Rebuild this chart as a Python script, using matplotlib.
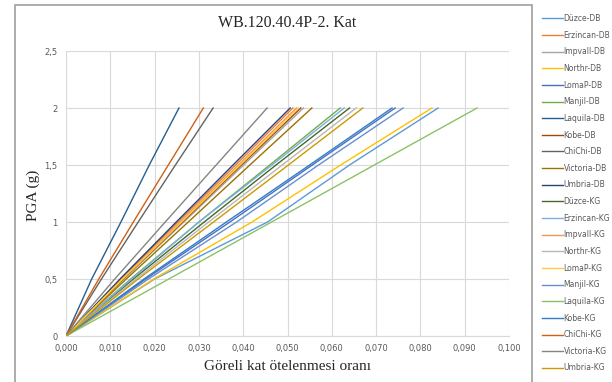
import matplotlib
matplotlib.use("Agg")
import matplotlib.pyplot as plt
from matplotlib.patches import Rectangle

pga = [0.0, 0.5, 1.0, 1.5, 2.0]

names = ["Düzce-DB", "Erzincan-DB", "Impvall-DB", "Northr-DB", "LomaP-DB", "Manjil-DB",
         "Laquila-DB", "Kobe-DB", "ChiChi-DB", "Victoria-DB", "Umbria-DB",
         "Düzce-KG", "Erzincan-KG", "Impvall-KG", "Northr-KG", "LomaP-KG", "Manjil-KG",
         "Laquila-KG", "Kobe-KG", "ChiChi-KG", "Victoria-KG", "Umbria-KG"]

colors = ["#5B9BD5", "#ED7D31", "#A5A5A5", "#FFC000", "#4472C4", "#70AD47",
          "#255E91", "#9E480E", "#636363", "#997300", "#264478",
          "#43682B", "#7CAFDD", "#F1975A", "#B7B7B7", "#FFCD33", "#698ED0",
          "#8CC168", "#327DC2", "#D26012", "#848484", "#CC9A00"]

drift = {
    "Düzce-DB":    [0, 0.0200, 0.0455, 0.0640, 0.0840],
    "Erzincan-DB": [0, 0.0124, 0.0253, 0.0383, 0.0512],
    "Impvall-DB":  [0, 0.0131, 0.0266, 0.0401, 0.0536],
    "Northr-DB":   [0, 0.0198, 0.0420, 0.0620, 0.0826],
    "LomaP-DB":    [0, 0.0180, 0.0370, 0.0556, 0.0743],
    "Manjil-DB":   [0, 0.0146, 0.0300, 0.0460, 0.0619],
    "Laquila-DB":  [0, 0.0058, 0.0124, 0.0188, 0.0255],
    "Kobe-DB":     [0, 0.0129, 0.0263, 0.0396, 0.0530],
    "ChiChi-DB":   [0, 0.0080, 0.0163, 0.0247, 0.0332],
    "Victoria-DB": [0, 0.0136, 0.0276, 0.0415, 0.0555],
    "Umbria-DB":   [0, 0.0122, 0.0249, 0.0377, 0.0506],
    "Düzce-KG":    [0, 0.0152, 0.0312, 0.0474, 0.0640],
    "Erzincan-KG": [0, 0.0148, 0.0300, 0.0465, 0.0628],
    "Impvall-KG":  [0, 0.0127, 0.0258, 0.0389, 0.0520],
    "Northr-KG":   [0, 0.0158, 0.0322, 0.0488, 0.0655],
    "LomaP-KG":    [0, 0.0128, 0.0261, 0.0393, 0.0525],
    "Manjil-KG":   [0, 0.0186, 0.0385, 0.0570, 0.0761],
    "Laquila-KG":  [0, 0.0232, 0.0464, 0.0696, 0.0928],
    "Kobe-KG":     [0, 0.0176, 0.0362, 0.0550, 0.0736],
    "ChiChi-KG":   [0, 0.0074, 0.0152, 0.0231, 0.0310],
    "Victoria-KG": [0, 0.0110, 0.0224, 0.0339, 0.0454],
    "Umbria-KG":   [0, 0.0163, 0.0333, 0.0502, 0.0670],
}

xticks = [0.0, 0.01, 0.02, 0.03, 0.04, 0.05, 0.06, 0.07, 0.08, 0.09, 0.10]
xticklabels = ["0,000", "0,010", "0,020", "0,030", "0,040", "0,050", "0,060", "0,070", "0,080", "0,090", "0,100"]
yticks = [0, 0.5, 1, 1.5, 2, 2.5]
yticklabels = ["0", "0,5", "1", "1,5", "2", "2,5"]

fig = plt.figure(figsize=(6.12, 3.82), dpi=100)
ax = fig.add_axes([66/612, 1-336/382, (509-66)/612, (336-51)/382])

handles = []
for name, c in zip(names, colors):
    h, = ax.plot(drift[name], pga, color=c, lw=1.0, label=name)
    handles.append(h)

ax.set_xlim(0, 0.1)
ax.set_ylim(0, 2.5)
ax.set_xticks(xticks)
ax.set_xticklabels(xticklabels)
ax.set_yticks(yticks)
ax.set_yticklabels(yticklabels)
ax.tick_params(length=0, labelsize=6, colors="#595959", pad=6)
ax.grid(True, color="#D9D9D9", lw=0.8)
ax.set_axisbelow(True)
for s in ["top", "right", "left"]:
    ax.spines[s].set_visible(False)
ax.spines["bottom"].set_color("#D9D9D9")

fig.text(287/612, 1-23/382, "WB.120.40.4P-2. Kat", family="Liberation Serif",
         fontsize=11.5, ha="center", va="center", color="#262626")
fig.text(287/612, 1-367/382, "Göreli kat ötelenmesi oranı", family="Liberation Serif",
         fontsize=11, ha="center", va="center", color="#262626")
fig.text(33/612, 1-195/382, "PGA (g)", family="Liberation Serif", fontsize=11,
         ha="center", va="center", rotation=90, color="#262626")

# chart border
fig.patches.append(Rectangle((15/612, -0.05), (532-15)/612, 1.05-5/382,
                             transform=fig.transFigure, fill=False,
                             edgecolor="#A6A6A6", lw=1.3))

leg = fig.legend(handles=handles, loc="upper left", bbox_to_anchor=(539/612, 1-11/382),
                 frameon=False, fontsize=5.5, labelspacing=1.0, handlelength=2.7,
                 handletextpad=0.1, borderaxespad=0)
for t in leg.get_texts():
    t.set_color("#595959")

fig.savefig("out.png", dpi=100)
